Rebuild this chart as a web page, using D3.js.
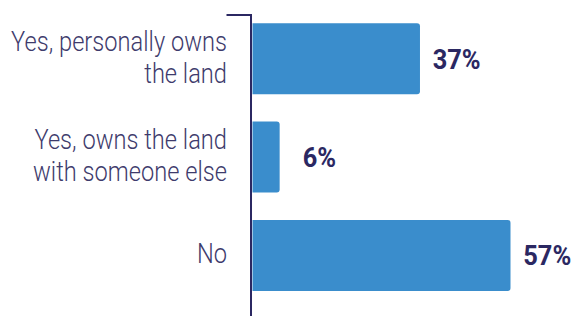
<!DOCTYPE html>
<html>
<head>
<meta charset="utf-8">
<script src="https://cdn.jsdelivr.net/npm/d3@7"></script>
<style>
  body { margin: 0; background: #fff; }
  .label { font-family: Roboto, sans-serif; font-weight: 300; font-size: 27px; fill: #3e3b6c; }
  .value { font-family: Roboto, sans-serif; font-weight: bold; font-size: 27px; fill: #2b2862; }
</style>
</head>
<body>
<div class="chart"></div>
<script>
var categories = ["yes_personal", "yes_shared", "no"];
var labelLines = [
  ["Yes, personally owns", "the land"],
  ["Yes, owns the land", "with someone else"],
  ["No"]
];
var values = [37, 6, 57];

var svgWidth = 576;
var svgHeight = 316;

var svg = d3.select(".chart")
  .append("svg")
  .attr("width", svgWidth)
  .attr("height", svgHeight);

var xScale = d3.scaleLinear()
  .domain([0, 57])
  .range([252.5, 510.5]);

var yScale = d3.scaleBand()
  .domain(categories)
  .range([9.6, 304.6])
  .paddingInner(0.278)
  .paddingOuter(0.139);

// bars, rounded on the right end only
var r = 3;
svg.selectAll(".bar")
  .data(values)
  .enter()
  .append("path")
  .attr("class", "bar")
  .attr("fill", "#3a8dcc")
  .attr("d", function(d, i) {
    var x0 = xScale(0), x1 = xScale(d);
    var y0 = yScale(categories[i]), h = yScale.bandwidth();
    return "M" + x0 + "," + y0 +
      "H" + (x1 - r) +
      "Q" + x1 + "," + y0 + " " + x1 + "," + (y0 + r) +
      "V" + (y0 + h - r) +
      "Q" + x1 + "," + (y0 + h) + " " + (x1 - r) + "," + (y0 + h) +
      "H" + x0 + "Z";
  });

// axis line with small top tick
svg.append("path")
  .attr("d", "M226.5,15H251V316")
  .attr("fill", "none")
  .attr("stroke", "#2b2862")
  .attr("stroke-width", 2);

// category labels (squeezed horizontally to mimic the condensed face)
var labelGroup = svg.append("g");

var labels = labelGroup.selectAll(".label")
  .data(labelLines)
  .enter()
  .append("text")
  .attr("class", "label")
  .attr("text-anchor", "end");

labels.each(function(lines, i) {
  var cy = yScale(categories[i]) + yScale.bandwidth() / 2;
  var lh = 31.5;
  var first = cy - (lines.length - 1) * lh / 2 + 8;
  d3.select(this).selectAll("tspan")
    .data(lines)
    .enter()
    .append("tspan")
    .attr("x", 0)
    .attr("y", function(l, j) { return first + j * lh; })
    .text(function(l) { return l; });
});

var widest = labelGroup.select("tspan").node().getComputedTextLength();
var sx = 216 / widest;
labelGroup.attr("transform", "translate(227,0) scale(" + sx + ",1)");

// value labels
var valueGroup = svg.append("g");
valueGroup.selectAll(".value")
  .data(values)
  .enter()
  .append("text")
  .attr("class", "value")
  .attr("x", 0)
  .attr("y", function(d, i) { return yScale(categories[i]) + yScale.bandwidth() / 2 + 10; })
  .text(function(d) { return d + "%"; })
  .each(function(d) {
    var w = this.getComputedTextLength();
    var k = 48 / d3.select(valueGroup.node().firstChild).node().getComputedTextLength();
    d3.select(this).attr("transform",
      "translate(" + (xScale(Math.max(d, 8.3)) + 12.7) + ",0) scale(" + k + ",1)");
  });
</script>
</body>
</html>
